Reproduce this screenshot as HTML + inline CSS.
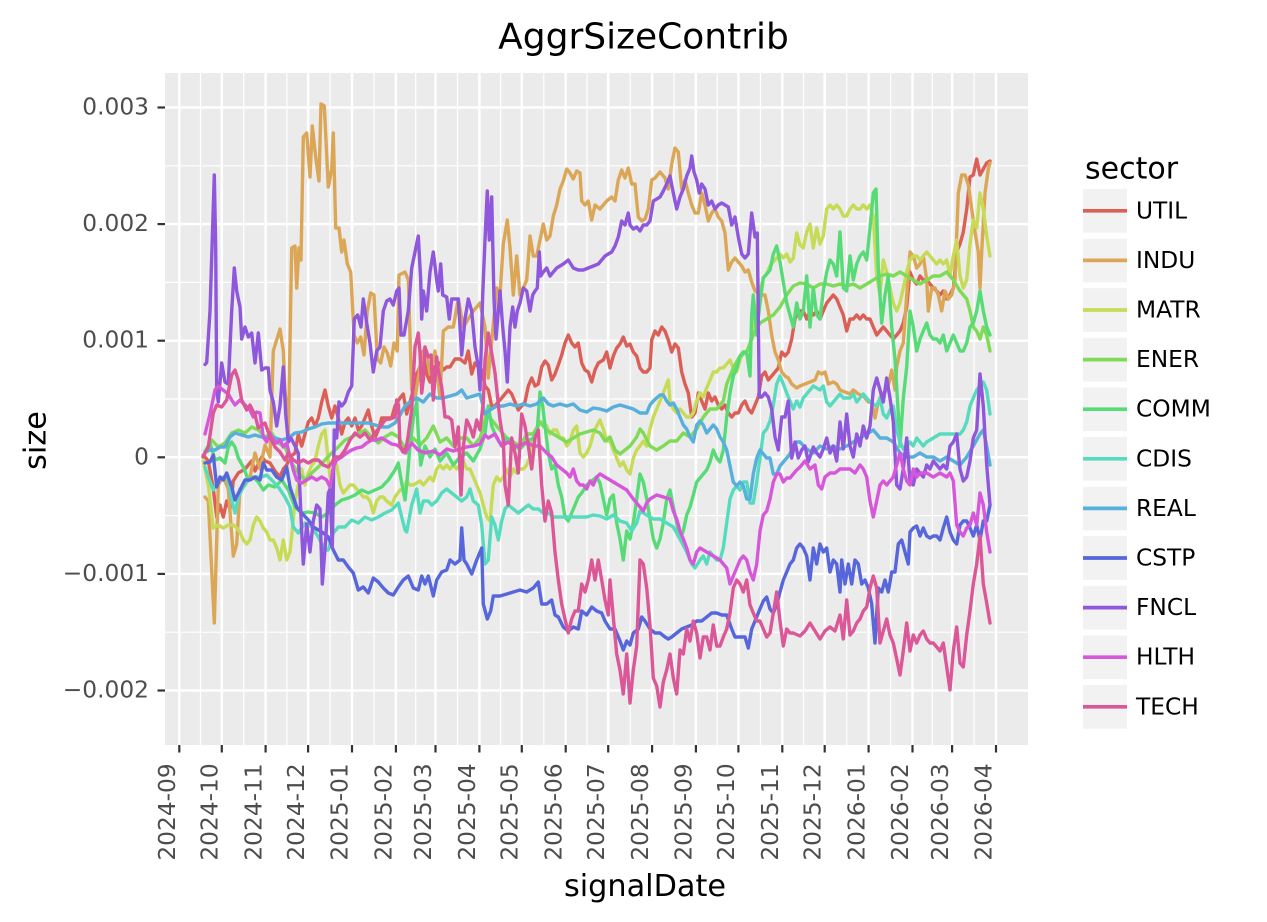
<!DOCTYPE html>
<html><head><meta charset="utf-8"><style>html,body{margin:0;padding:0;background:#fff}svg{display:block}text{font-family:"DejaVu Sans","Liberation Sans",sans-serif}</style></head><body>
<svg width="1267" height="922" viewBox="0 0 1267 922" xmlns="http://www.w3.org/2000/svg">
<rect x="0" y="0" width="1267" height="922" fill="#ffffff"/>
<rect x="165" y="73" width="863" height="672" fill="#ebebeb"/>
<g stroke="#ffffff" stroke-width="1.2">
<line x1="165" x2="1028" y1="165.8" y2="165.8"/><line x1="165" x2="1028" y1="282.4" y2="282.4"/><line x1="165" x2="1028" y1="399" y2="399"/><line x1="165" x2="1028" y1="515.6" y2="515.6"/><line x1="165" x2="1028" y1="632.2" y2="632.2"/>
<line y1="73" y2="745" x1="200.5" x2="200.5"/><line y1="73" y2="745" x1="243.7" x2="243.7"/><line y1="73" y2="745" x1="286.9" x2="286.9"/><line y1="73" y2="745" x1="330.1" x2="330.1"/><line y1="73" y2="745" x1="374" x2="374"/><line y1="73" y2="745" x1="415.7" x2="415.7"/><line y1="73" y2="745" x1="457.5" x2="457.5"/><line y1="73" y2="745" x1="500.6" x2="500.6"/><line y1="73" y2="745" x1="543.8" x2="543.8"/><line y1="73" y2="745" x1="587" x2="587"/><line y1="73" y2="745" x1="630.2" x2="630.2"/><line y1="73" y2="745" x1="674" x2="674"/><line y1="73" y2="745" x1="717.2" x2="717.2"/><line y1="73" y2="745" x1="760.4" x2="760.4"/><line y1="73" y2="745" x1="803.5" x2="803.5"/><line y1="73" y2="745" x1="846.7" x2="846.7"/><line y1="73" y2="745" x1="890.6" x2="890.6"/><line y1="73" y2="745" x1="932.3" x2="932.3"/><line y1="73" y2="745" x1="974.1" x2="974.1"/>
</g>
<g stroke="#ffffff" stroke-width="2.5">
<line x1="165" x2="1028" y1="107.5" y2="107.5"/><line x1="165" x2="1028" y1="224.1" y2="224.1"/><line x1="165" x2="1028" y1="340.7" y2="340.7"/><line x1="165" x2="1028" y1="457.3" y2="457.3"/><line x1="165" x2="1028" y1="573.9" y2="573.9"/><line x1="165" x2="1028" y1="690.5" y2="690.5"/>
<line y1="73" y2="745" x1="179.3" x2="179.3"/><line y1="73" y2="745" x1="221.8" x2="221.8"/><line y1="73" y2="745" x1="265.6" x2="265.6"/><line y1="73" y2="745" x1="308.1" x2="308.1"/><line y1="73" y2="745" x1="352" x2="352"/><line y1="73" y2="745" x1="395.9" x2="395.9"/><line y1="73" y2="745" x1="435.5" x2="435.5"/><line y1="73" y2="745" x1="479.4" x2="479.4"/><line y1="73" y2="745" x1="521.8" x2="521.8"/><line y1="73" y2="745" x1="565.7" x2="565.7"/><line y1="73" y2="745" x1="608.2" x2="608.2"/><line y1="73" y2="745" x1="652.1" x2="652.1"/><line y1="73" y2="745" x1="695.9" x2="695.9"/><line y1="73" y2="745" x1="738.4" x2="738.4"/><line y1="73" y2="745" x1="782.3" x2="782.3"/><line y1="73" y2="745" x1="824.7" x2="824.7"/><line y1="73" y2="745" x1="868.6" x2="868.6"/><line y1="73" y2="745" x1="912.5" x2="912.5"/><line y1="73" y2="745" x1="952.1" x2="952.1"/><line y1="73" y2="745" x1="996" x2="996"/>
</g>
<g fill="none" stroke-width="3.4" stroke-linejoin="round" stroke-linecap="round">
<polyline stroke="#db5f57" points="203.3,455 208.3,461 213.3,489 216.7,517 220,505 223.3,517 226.7,501 230,509 233.3,481 238.3,473 245,469 251.7,461 255,471 261.7,457 265,461 270,463 275,471 280,477 283.3,469 286.7,465 290,457 295,453 298.3,434 301.7,446 305,434 308.3,422 311.7,418 315,426 318.3,418 321.7,402 325,390 328.3,406 331.7,418 335,406 338.3,418 341.7,434 345,422 348.3,418 351.7,426 355,418 358.3,430 361.7,426 365,418 368.3,410 371.7,426 375,438 378.3,430 381.7,418 386.7,418 391.7,418 395,406 400,398 403.3,394 406.7,414 410,402 413.3,390 416.7,374 420,367 423.3,351 426.7,374 430,382 433.3,367 436.7,367 440,363 443.3,370 446.7,367 450,367 455,359 460,359 465,363 468.3,351 471.7,374 475,363 478.3,367 481.7,370 485,386 488.3,390 491.7,406 495,406 498.3,402 501.7,398 505,394 508.3,390 511.7,394 515,402 518.3,410 521.7,406 525,402 528.3,386 531.7,378 535,386 538.3,384 541.7,367 545,361 548.3,365 551.7,380 555,374 558.3,365 561.7,355 565,343 568.3,335 571.7,343 575,347 578.3,343 581.7,363 585,370 588.3,372 591.7,382 595,370 598.3,363 603.3,360 606.7,352 610,368 613.3,356 616.7,348 620,344 623.3,337 626.7,346 630,344 633.3,352 636.7,356 640,368 643.3,372 646.7,372 650,368 651.7,340 655,331 658.3,335 661.7,327 665,331 668.3,340 671.7,352 675,344 678.3,348 681.7,372 685,384 688.3,393 691.7,417 695,413 698.3,393 701.7,401 705,409 708.3,393 711.7,401 715,397 718.3,405 721.7,409 725,405 728.3,413 731.7,417 735,413 738.3,413 741.7,405 745,401 748.3,409 751.7,413 755,405 758.3,397 761.7,376 765,372 768.3,380 771.7,376 775,372 778.3,368 781.7,352 785,356 788.3,352 791.7,339 795,319 798.3,311 803.3,311 806.7,319 810,311 813.3,315 816.7,311 820,319 823.3,311 826.7,303 830,299 833.3,295 836.7,299 840,307 843.3,315 846.7,331 850,319 853.3,319 856.7,315 860,319 863.3,315 866.7,319 870,319 873.3,327 876.7,335 880,331 883.3,327 886.7,331 890,335 893.3,339 896.7,335 900,331 903.3,323 906.7,307 910,272 913.3,280 916.7,284 920,276 923.3,280 926.7,280 930,284 933.3,288 936.7,291 940,295 943.3,291 946.7,299 950,295 953.3,288 956.7,252 960,244 963.3,232 966.7,209 970,177 973.3,175 976.7,159 980,175 983.3,169 986.7,163 990,161"/>
<polyline stroke="#dba757" points="205,497 208.3,501 214.3,623 218.3,485 223.3,477 228.3,489 233.3,556 236.7,544 240,489 245,485 250,477 255,453 260,469 265,445 270,457 273.3,351 280,329 283.3,351 285,390 288.3,438 291.7,248 295,246 296.7,288 299,248 301,260 303.3,137 306.7,133 310,177 312.3,126 315.7,157 319,181 321,104 324.3,106 328.3,187 331.7,169 333.3,133 335.7,228 339,228 341.7,252 344,240 347.3,264 350.7,272 354,335 357.3,343 360.7,337 364,355 367.3,311 370.7,293 374,295 377.3,359 380.7,363 384,347 387.3,353 390.7,366 394,343 397.3,351 399,275 405,272 408.3,280 411.7,390 415,398 420,367 425,347 430,374 435,351 440,398 443.3,331 448.3,327 453.3,327 458.3,299 463.3,327 468.3,319 473.3,311 480,303 485,327 488.3,378 496.7,288 500,295 503.3,244 507.3,220 510,248 513.3,295 516.7,256 520,295 523.3,288 526.7,280 530,236 533.3,256 536.7,256 540,240 543.3,224 546.7,240 550,236 553.3,216 556.7,205 560,189 563.3,181 566.7,169 570,173 573.3,179 576.7,171 580,173 581.7,201 585,205 588.3,201 591.7,220 595,205 600,209 606.7,201 611.7,197 615,201 618.3,180 621.7,170 625,178 628.3,168 631.7,184 635,184 638.3,217 641.7,221 645,219 648.3,209 651.7,180 655,178 660,172 665,178 668.3,189 671.7,164 675,148 678.3,152 681.7,189 685,180 688.3,193 691.7,205 695,213 698.3,213 701.7,193 705,205 708.3,221 711.7,213 715,209 718.3,217 721.7,221 725,233 728.3,270 731.7,262 735,258 738.3,262 741.7,266 745,272 748.3,270 751.7,282 755,291 758.3,293 761.7,295 765,295 768.3,311 771.7,335 775,352 778.3,360 781.7,372 785,376 788.3,378 791.7,384 796.7,388 800,386 805,384 810,382 815,380 818.3,372 821.7,374 825,372 828.3,384 833.3,382 836.7,384 840,390 845,392 850,394 853.3,390 858.3,394 863.3,396 868.3,402 871.7,402 875,418 878.3,402 881.7,394 885,392 888.3,386 891.7,370 895,390 896.7,367 900,351 903.3,343 906.7,295 910,252 913.3,256 916.7,268 920,264 923.3,256 926.7,280 928.3,311 931.7,288 935,288 938.3,295 941.7,311 945,291 948.3,299 951.7,295 955,280 958.3,193 961.7,175 965,175 968.3,185 971.7,209 975,232 978.3,252 980,288 981.7,252 985,193 988.3,169 990,163"/>
<polyline stroke="#c7db57" points="203.3,461 208.3,485 213.3,528 218.3,525 223.3,528 228.3,525 233.3,525 236.7,528 240,532 243.3,540 246.7,544 250,540 253.3,525 256.7,517 260,521 263.3,528 266.7,532 270,540 273.3,540 276.7,548 280,560 283.3,540 286.7,560 290,552 291.7,536 295,501 298.3,485 301.7,469 305,485 308.3,473 311.7,465 315,461 318.3,446 321.7,434 325,430 326.7,446 330,477 333.3,469 336.7,465 340,485 343.3,493 346.7,489 350,485 353.3,485 356.7,489 360,493 363.3,497 366.7,497 370,501 373.3,513 376.7,501 380,497 383.3,497 386.7,501 391.7,505 395,497 400,490 403.3,489 406.7,481 410,485 413.3,485 416.7,483 420,481 423.3,485 426.7,481 430,477 433.3,481 436.7,469 440,465 443.3,469 446.7,465 450,469 453.3,465 456.7,469 460,465 463.3,461 466.7,469 470,469 473.3,477 476.7,485 480,493 483.3,505 486.7,517 490,521 493.3,485 496.7,477 500,481 503.3,477 506.7,469 510,477 513.3,469 516.7,473 520,469 523.3,469 526.7,465 530,457 533.3,438 536.7,430 540,422 543.3,422 546.7,426 550,434 553.3,430 556.7,430 560,438 563.3,438 566.7,446 570,442 573.3,430 576.7,426 580,453 583.3,457 586.7,453 590,446 593.3,434 596.7,426 600,420 603.3,429 606.7,441 610,441 613.3,450 616.7,458 620,466 623.3,462 626.7,470 630,474 633.3,458 636.7,450 640,446 643.3,441 646.7,446 650,429 653.3,417 656.7,409 660,401 663.3,393 666.7,384 668.3,380 670,401 673.3,409 676.7,413 680,409 683.3,413 686.7,417 690,417 693.3,413 696.7,401 700,393 703.3,397 706.7,388 710,380 713.3,372 716.7,372 720,368 723.3,368 726.7,364 730,360 733.3,368 736.7,372 740,360 743.3,352 746.7,352 750,344 753.3,327 756.7,311 760,291 763.3,278 766.7,274 770,266 773.3,262 776.7,258 780,254 783.3,258 786.7,254 790,262 793.3,258 796.7,233 800,245 803.3,248 806.7,232 810,224 813.3,248 816.7,228 820,244 823.3,236 826.7,209 830,205 833.3,209 836.7,205 840,209 843.3,216 846.7,216 850,209 853.3,205 856.7,209 860,209 863.3,205 866.7,209 870,205 873.3,216 876.7,276 880,295 883.3,260 886.7,272 890,288 893.3,303 896.7,311 900,303 903.3,288 906.7,272 910,260 913.3,256 916.7,256 920,260 923.3,256 926.7,252 930,256 933.3,260 936.7,264 940,260 943.3,264 946.7,260 950,276 953.3,256 956.7,240 960,276 963.3,288 966.7,280 970,244 973.3,220 976.7,228 980,193 983.3,209 986.7,236 990,256"/>
<polyline stroke="#7fdb57" points="205,452 211.7,440 218.3,447 225,443 231.7,433 238.3,430 245,433 251.7,427 258.3,430 265,437 271.7,433 278.3,443 285,447 291.7,463 298.3,473 305,480 311.7,473 318.3,467 325,460 331.7,453 338.3,447 345,440 351.7,437 358.3,433 365,430 371.7,437 378.3,443 385,437 391.7,433 398.3,437 403,445 406.7,453 413.3,438 420,445 426.7,438 433.3,426 440,442 446.7,438 453.3,446 460,438 466.7,438 473.3,446 480,438 486.7,414 493.3,422 500,430 506.7,438 513.3,442 520,446 526.7,434 533.3,434 540,422 546.7,430 553.3,434 560,438 566.7,442 573.3,438 580,434 586.7,432 593.3,430 600,433 605,441 610,437 615,450 620,454 625,450 630,446 636.7,437 640,429 643.3,433 650,446 656.7,450 663.3,446 670,441 676.7,441 683.3,433 690,437 696.7,429 703.3,417 710,409 716.7,409 723.3,401 726.7,384 733.3,368 740,356 746.7,352 753.3,335 760,323 766.7,319 773.3,315 780,307 786.7,295 793.3,286 800,283 806.7,284 813.3,288 820,284 826.7,284 833.3,286 840,284 846.7,286 853.3,284 860,288 866.7,284 873.3,280 880,276 886.7,274 893.3,276 900,272 906.7,276 913.3,280 920,284 926.7,280 933.3,276 940,276 946.7,272 953.3,280 960,291 966.7,299 970,311 973.3,327 976.7,331 980,339 983.3,327 986.7,335 990,351"/>
<polyline stroke="#57db77" points="205,452 210,443 215,460 220,458 225,463 228.3,447 231.7,442 235,447 238.3,458 243.3,467 248.3,480 253.3,477 258.3,482 263.3,490 268.3,485 275,487 281.7,480 288.3,490 295,507 301.7,513 308.3,512 315,513 321.7,517 328.3,513 335,505 341.7,500 348.3,498 355,495 361.7,490 368.3,493 375,490 381.7,487 388.3,480 395,470 398.3,463 401.7,483 405,500 406.7,485 410,446 413.3,418 416.7,402 418.3,434 420.7,465 425,446 430,457 435,449 440,461 446.7,453 453.3,465 460,457 466.7,453 473.3,461 480,449 485,434 488.3,406 491.7,426 496.7,438 501.7,446 506.7,438 513.3,446 520,449 526.7,442 533.3,438 537.3,430 540,392 542.7,406 545,426 548.3,453 551.7,469 555,465 558.3,485 561.7,497 565,517 568.3,521 571.7,513 575,505 578.3,497 581.7,493 586.7,485 591.7,481 596.7,477 600,483 603.3,499 606.7,515 610,499 613.3,495 616.7,523 620,539 623.3,560 626.7,531 630,539 633.3,523 636.7,499 640,474 643.3,482 646.7,499 650,519 653.3,539 656.7,548 660,539 663.3,523 666.7,499 670,490 673.3,507 676.7,523 680,539 683.3,531 686.7,515 690,507 693.3,495 696.7,482 700,478 703.3,474 706.7,470 710,462 713.3,450 716.7,458 720,462 723.3,450 726.7,417 730,393 733.3,376 736.7,368 740,356 743.3,352 746.7,352 750,376 751.7,315 753.3,295 756.7,335 760,303 763.3,278 766.7,274 770,270 773.3,254 776.7,246 780,262 783.3,282 786.7,303 790,315 793.3,327 796.7,303 800,319 803.3,311 806.7,276 810,327 813.3,288 816.7,315 820,319 823.3,291 826.7,272 830,260 833.3,264 836.7,276 840,232 843.3,288 846.7,291 850,256 853.3,280 856.7,264 860,256 863.3,252 866.7,260 870,228 873.3,193 876,189 878.3,268 881.7,323 885,295 888.3,276 891.7,327 895,359 898.3,414 900,446 903.3,398 906.7,367 910,311 913.3,327 916.7,351 920,339 923.3,331 926.7,323 930,335 933.3,339 936.7,339 940,343 943.3,335 946.7,351 950,343 953.3,335 956.7,343 960,351 963.3,351 966.7,343 970,327 973.3,323 976.7,311 980,291 983.3,311 986.7,327 990,335"/>
<polyline stroke="#57dbbf" points="205,467 208.3,477 213.3,490 218.3,480 223.3,477 228.3,480 231.7,500 235,513 238.3,497 243.3,487 248.3,480 255,477 261.7,477 266.7,475 271.7,480 278.3,487 285,497 290,507 293.3,527 298.3,533 305,523 311.7,527 318.3,537 325,550 328.3,550 333.3,533 338.3,527 345,527 351.7,520 358.3,523 365,517 371.7,520 378.3,517 385,513 391.7,510 398.3,503 401.7,517 405,530 406.7,532 411.7,505 416.7,489 420,513 423.3,501 428.3,501 431.7,505 436.7,501 441.7,493 446.7,489 451.7,493 456.7,497 461.7,501 466.7,497 470,489 473.3,501 478.3,505 481.7,525 485,564 488.3,560 491.7,517 495,525 498.3,540 501.7,521 505,509 508.3,505 513.3,509 518.3,513 523.3,509 528.3,505 533.3,509 538.3,509 543.3,513 548.3,513 553.3,517 560,517 566.7,517 573.3,517 580,517 586.7,517 593.3,515 600,516 606.7,519 613.3,515 620,521 626.7,523 631.7,531 636.7,523 640,511 646.7,515 653.3,519 660,519 666.7,523 673.3,527 680,539 686.7,552 691.7,564 695,568 700,560 703.3,556 706.7,564 710,552 713.3,556 716.7,560 720,560 723.3,548 726.7,523 730,499 733.3,490 736.7,486 740,490 743.3,482 746.7,482 750,503 753.3,503 756.7,482 760,458 763.3,433 766.7,429 770,421 773.3,405 776.7,384 780,376 783.3,384 786.7,393 790,401 793.3,409 796.7,401 800,407 803.3,398 806.7,394 810,390 813.3,386 820,390 823.3,386 826.7,402 830,406 833.3,402 840,394 843.3,398 850,398 853.3,394 856.7,402 863.3,394 870,402 876.7,406 880,398 883.3,414 886.7,418 890,410 893.3,406 896.7,430 900,442 903.3,449 906.7,446 910,442 913.3,446 916.7,438 920,442 923.3,446 926.7,442 933.3,438 940,434 946.7,434 953.3,434 960,434 963.3,430 966.7,422 970,406 973.3,398 976.7,390 980,386 983.3,382 986.7,390 990,414"/>
<polyline stroke="#57afdb" points="205,452 210,450 215,450 220,447 225,447 230,437 235,433 241.7,435 248.3,437 255,435 261.7,437 268.3,438 275,438 281.7,440 288.3,438 295,433 301.7,432 308.3,429 315,427 321.7,424 328.3,423 335,423 341.7,423 348.3,423 355,423 361.7,423 368.3,423 375,425 381.7,427 388.3,427 395,423 400,415 405,406 410,402 416.7,398 423.3,402 430,394 436.7,398 443.3,398 450,396 456.7,394 461.7,390 466.7,398 473.3,396 480,394 485,414 490,410 496.7,406 503.3,406 510,404 516.7,406 523.3,404 530,406 536.7,404 543.3,398 548.3,404 553.3,406 560,404 566.7,406 573.3,404 580,410 586.7,412 593.3,408 600,409 606.7,411 613.3,407 620,405 626.7,407 633.3,409 640,413 646.7,413 650,405 653.3,401 660,395 663.3,395 666.7,401 670,405 673.3,403 676.7,409 680,417 683.3,425 686.7,429 690,437 693.3,442 696.7,425 700,421 703.3,425 706.7,433 710,429 713.3,425 716.7,429 720,437 723.3,442 726.7,450 730,466 733.3,482 736.7,486 740,482 743.3,486 746.7,499 750,499 753.3,474 756.7,458 760,450 763.3,454 766.7,458 770,458 773.3,474 776.7,474 780,466 783.3,462 786.7,458 790,454 793.3,446 796.7,442 800,442 806.7,449 813.3,453 820,446 826.7,449 833.3,446 840,449 846.7,446 853.3,442 860,438 866.7,434 873.3,430 880,438 886.7,438 893.3,442 900,453 906.7,457 913.3,457 920,453 926.7,457 933.3,457 940,461 946.7,457 953.3,461 960,465 966.7,457 973.3,446 980,434 983.3,430 986.7,446 990,465"/>
<polyline stroke="#5767db" points="205,463 210,462 213.3,455 216.7,487 220,477 223.3,480 226.7,473 231.7,487 235,500 240,490 245,480 250,480 255,477 260,480 263.3,463 266.7,470 271.7,470 276.7,477 281.7,480 286.7,467 290,487 293.3,497 296.7,507 301.7,513 308.3,520 313.3,527 318.3,530 323.3,533 328.3,537 333.3,550 338.3,560 343.3,560 348.3,567 353.3,573 358.3,590 363.3,587 368.3,593 373.3,578 378.3,582 383.3,588 388.3,593 393.3,595 398.3,587 403.3,580 408.3,576 413.3,588 418.3,590 421.7,576 425,584 428.3,576 433.3,596 436.7,580 441.7,572 446.7,570 450,560 455,564 460,560 461.7,528 464,560 466.7,564 471.7,574 476.7,560 481.7,548 483.3,604 487.3,619 490.7,611 493.3,596 500,596 506.7,594 513.3,592 520,590 526.7,592 533.3,588 538.3,582 541.7,604 546.7,604 551.7,600 555,615 558.3,617 563.3,627 568.3,631 573.3,627 578.3,629 581.7,611 586.7,615 591.7,607 596.7,611 601.7,613 605,621 610,629 615,629 620,641 623.3,650 626.7,641 630,645 633.3,633 638.3,629 641.7,617 645,621 650,629 655,633 660,633 665,637 668.3,639 671.7,637 676.7,633 681.7,629 686.7,627 691.7,625 696.7,621 701.7,621 706.7,617 711.7,613 716.7,613 721.7,615 726.7,615 731.7,629 735,637 740,637 745,637 748.3,648 751.7,629 755,621 758.3,613 763.3,601 766.7,597 770,609 773.3,613 776.7,605 780,592 783.3,580 786.7,572 790,564 793.3,560 796.7,548 800,544 803.3,548 806.7,556 810,580 813.3,548 816.7,564 820,544 823.3,552 826.7,548 830,572 833.3,560 836.7,564 840,592 841.7,560 845,584 848.3,564 851.7,584 855,560 858.3,564 861.7,584 865,580 868.3,588 871.7,604 875,643 878.3,588 881.7,592 885,580 888.3,592 891.7,572 895,572 898.3,544 901.7,540 905,552 908.3,564 910,532 913.3,528 916.7,526 920,536 923.3,528 926.7,536 930,538 933.3,536 936.7,536 940,540 943.3,528 946.7,517 950,532 953.3,540 956.7,544 960,525 963.3,521 966.7,521 970,528 973.3,536 976.7,525 980,540 983.3,521 986.7,521 990,505"/>
<polyline stroke="#8f57db" points="205,364.5 206.7,362.6 210,311 214.3,175 215.7,248 216.7,390 218.3,402 221.7,363 225,382 228.3,384 231.7,311 234.3,268 236.7,291 240,307 241.7,339 245,327 248.3,337 251.7,333 255,363 258.3,333 261.7,370 265,368 268.3,368 270,390 273.3,402 276.7,426 280,406 283.3,367 285.7,414 288.3,442 291,438 295,446 298.3,453 301,517 303.3,564 306.7,524 310,552 313.3,521 316.7,505 320,509 322.3,584 325.7,540 328.3,493 330,489 332.3,548 334.3,430 336.7,438 339,402 341.7,406 345,402 348.3,392 351.7,386 354.3,319 357.7,315 361,327 363.3,299 366.7,323 370,343 373.3,372 376.7,351 380,347 383.3,311 386.7,301 390,299 393.3,305 396.7,291 399,288 401,335 404,335 408.3,311 411.7,268 415,252 418.3,236 420.7,280 421.7,319 423.3,291 426.7,311 430,272 433.3,252 436.7,280 438.3,291 440.7,264 442.7,295 446.7,297 449.3,319 451.7,299 458.3,299 461.7,355 465,319 468.3,299 471.7,311 475,347 478.3,367 480,390 482.7,295 485,240 487.3,191 489.3,240 491.7,197 494,299 496,339 498.3,311 500,291 502.7,327 505,351 507.3,382 510,327 512.7,307 515,327 517.3,311 520,303 523.3,288 526.7,291 530,311 532.7,295 535,291 537.3,288 539.3,252 540.7,276 543.3,272 546.7,268 550,276 553.3,272 556.7,268 560,266 563.3,264 568.3,260 573.3,268 578.3,270 583.3,270 588.3,268 593.3,266 598.3,264 601.7,260 605,256 608.3,254 611.7,252 615,246 618.3,237 621.7,221 625,225 628.3,213 630,225 633.3,229 636.7,227 640,231 643.3,225 646.7,225 650,221 653.3,201 656.7,199 660,197 663.3,191 666.7,184 670,176 673.3,193 676.7,209 680,197 683.3,189 686.7,176 690,168 691.7,156 694,172 696.7,180 699.3,193 701.7,184 705,189 708.3,205 711.7,201 715,209 718.3,205 721.7,203 725,205 728.3,207 731.7,225 735,217 738.3,237 741.7,254 745,258 748.3,254 751.7,213 755,237 757.3,233 759.3,397 761.7,397 765,393 768.3,397 771.7,409 775,437 778.3,450 781.7,417 785,417 788.3,401 791.7,458 795,442 798.3,458 801.7,450 805,446 808.3,462 810,457 813.3,447 816.7,453 820,457 823.3,449 826.7,438 830,453 833.3,446 836.7,461 840,422 843.3,449 846.7,414 850,446 853.3,457 856.7,434 860,446 863.3,426 866.7,438 870,426 873.3,390 876.7,378 880,390 883.3,402 886.7,378 890,398 893.3,422 896.7,485 900,489 903.3,469 906.7,438 910,481 913.3,485 916.7,469 920,473 923.3,477 926.7,465 930,469 933.3,461 936.7,465 940,469 943.3,465 946.7,469 950,446 953.3,442 956.7,434 960,469 963.3,481 966.7,477 970,461 973.3,438 976.7,430 980,374 983.3,406 986.7,465 990,505"/>
<polyline stroke="#d757db" points="205,434 210,414 215,390 218.3,386 223,390 228.3,394 231.7,400 235,405 240,400 245,405 250,410 253.3,417 256.7,412 260,413 263.3,437 266.7,442 270,433 273.3,440 276.7,443 280,440 283.3,447 286.7,443 290,457 293.3,470 296.7,480 301.7,483 306.7,480 311.7,477 316.7,480 321.7,477 326.7,480 330,487 333.3,467 336.7,460 341.7,457 346.7,453 351.7,450 356.7,448 361.7,447 366.7,443 371.7,440 376.7,440 381.7,438 386.7,441 391.7,444 396.7,445 401.7,448 405,453 411.7,443 418,450 425,453 433.3,451 440,455 446.7,449 453.3,451 460,449 466.7,447 473.3,446 480,444 485,435 488.3,438 495,434 501.7,446 508.3,442 513.3,446 520,446 526.7,442 533.3,446 540,446 546.7,453 551.7,457 556.7,465 561.7,469 566.7,473 570,477 573.3,469 576.7,481 580,485 583.3,485 586.7,489 590,481 593.3,485 596.7,477 600,474 606.7,478 613.3,482 620,486 626.7,490 633.3,499 640,507 643.3,511 646.7,503 650,499 656.7,495 663.3,497 670,499 673.3,511 676.7,519 680,531 683.3,539 686.7,548 690,560 693.3,564 696.7,552 700,548 706.7,552 713.3,556 720,560 723.3,564 726.7,568 730,584 733.3,576 736.7,568 740,560 743.3,556 746.7,560 750,572 753.3,580 756.7,564 760,531 763.3,515 766.7,511 770,499 773.3,482 776.7,474 780,474 783.3,482 786.7,478 790,478 793.3,474 796.7,470 800,467 805,461 810,469 815,465 818.3,485 821.7,489 825,477 830,473 835,473 840,469 845,469 850,469 855,473 860,465 863.3,469 866.7,477 870,501 873.3,517 876.7,501 880,485 883.3,481 886.7,485 890,481 893.3,477 896.7,465 900,453 903.3,469 906.7,481 910,485 913.3,469 916.7,477 920,473 926.7,473 933.3,477 940,473 946.7,477 950,473 953.3,481 956.7,525 960,532 963.3,536 966.7,528 970,525 973.3,513 976.7,525 980,493 983.3,505 986.7,532 990,552"/>
<polyline stroke="#db5797" points="203,457 208.3,447 213.3,413 216.7,405 221.7,407 226.7,400 231.7,375 235,370 238.3,380 241.7,400 246.7,410 250,405 255,415 258.3,428 261.7,425 265,423 270,437 275,447 280,452 285,460 288.3,453 293.3,460 298.3,463 303.3,460 308.3,463 313.3,460 318.3,460 323.3,465 328.3,467 331.7,463 335,457 340,457 345,450 350,440 355,433 360,437 365,433 370,440 375,433 380,427 385,420 390,419 395,417 396.7,400 398.5,405 400,447 403,452 406,448 408,437 411.7,410 415,347 418.3,333 420,353 421.7,393 423.3,380 425,347 428.3,357 431,355 433.3,400 436.7,357 438.3,370 441.7,387 445,417 448.3,417 451.7,420 455,447 458.3,427 461,495 463.3,447 466.7,420 470,427 473.3,437 476.7,420 480,430 483.3,403 485,360 488.3,333 491.7,353 495,373 500,420 503.3,440 505,485 508.3,505 511.7,438 515,453 518.3,473 521.7,414 525,426 528.3,446 531.7,469 535,438 538.3,430 541.7,485 545,521 548.3,501 551.7,513 555,552 558.3,580 561.7,604 565,619 568.3,633 571.7,619 575,611 578.3,611 581.7,584 585,592 588.3,580 591.7,560 595,580 598.3,560 601.7,580 605,600 608.3,615 610,580 613.3,617 616.7,654 620,670 623.3,694 626.7,654 630,703 633.3,670 636.7,646 640,560 643.3,564 646.7,588 650,625 653.3,678 656.7,686 660,707 663.3,682 666.7,670 670,654 673.3,678 676.7,694 680,650 683.3,654 686.7,629 690,641 693.3,621 696.7,633 700,658 703.3,637 706.7,637 710,650 713.3,625 716.7,646 720,646 723.3,637 726.7,629 730,613 733.3,588 736.7,580 740,584 743.3,592 746.7,580 750,605 753.3,613 756.7,621 760,621 763.3,629 766.7,637 770,633 773.3,613 776.7,592 780,621 783.3,646 786.7,629 790,633 793.3,633 800,636 805,631 810,623 815,631 820,639 825,631 830,627 835,631 840,615 843.3,639 846.7,600 850,635 853.3,631 856.7,623 860,619 863.3,611 866.7,607 870,588 873.3,576 876.7,588 880,643 883.3,631 886.7,619 890,635 893.3,643 896.7,659 900,675 903.3,651 906.7,623 910,651 913.3,635 916.7,643 920,635 923.3,631 926.7,639 930,643 933.3,643 936.7,647 940,651 943.3,643 946.7,667 950,690 953.3,651 956.7,627 960,663 963.3,667 966.7,635 970,611 973.3,584 976.7,564 980,536 983.3,584 986.7,603 990,623"/>
</g>
<g stroke="#333333" stroke-width="2.2">
<line x1="157.5" x2="165" y1="107.5" y2="107.5"/><line x1="157.5" x2="165" y1="224.1" y2="224.1"/><line x1="157.5" x2="165" y1="340.7" y2="340.7"/><line x1="157.5" x2="165" y1="457.3" y2="457.3"/><line x1="157.5" x2="165" y1="573.9" y2="573.9"/><line x1="157.5" x2="165" y1="690.5" y2="690.5"/>
<line y1="745" y2="752.5" x1="179.3" x2="179.3"/><line y1="745" y2="752.5" x1="221.8" x2="221.8"/><line y1="745" y2="752.5" x1="265.6" x2="265.6"/><line y1="745" y2="752.5" x1="308.1" x2="308.1"/><line y1="745" y2="752.5" x1="352" x2="352"/><line y1="745" y2="752.5" x1="395.9" x2="395.9"/><line y1="745" y2="752.5" x1="435.5" x2="435.5"/><line y1="745" y2="752.5" x1="479.4" x2="479.4"/><line y1="745" y2="752.5" x1="521.8" x2="521.8"/><line y1="745" y2="752.5" x1="565.7" x2="565.7"/><line y1="745" y2="752.5" x1="608.2" x2="608.2"/><line y1="745" y2="752.5" x1="652.1" x2="652.1"/><line y1="745" y2="752.5" x1="695.9" x2="695.9"/><line y1="745" y2="752.5" x1="738.4" x2="738.4"/><line y1="745" y2="752.5" x1="782.3" x2="782.3"/><line y1="745" y2="752.5" x1="824.7" x2="824.7"/><line y1="745" y2="752.5" x1="868.6" x2="868.6"/><line y1="745" y2="752.5" x1="912.5" x2="912.5"/><line y1="745" y2="752.5" x1="952.1" x2="952.1"/><line y1="745" y2="752.5" x1="996" x2="996"/>
</g>
<g fill="#4d4d4d" font-size="23.3" text-anchor="end">
<text x="149" y="114.5">0.003</text><text x="149" y="231.1">0.002</text><text x="149" y="347.7">0.001</text><text x="149" y="464.5">0</text><text x="149" y="581">−0.001</text><text x="149" y="697.5">−0.002</text>
</g>
<g fill="#4d4d4d" font-size="23.3" text-anchor="end">
<text transform="translate(175,763.3) rotate(-90)">2024-09</text>
<text transform="translate(217.5,763.3) rotate(-90)">2024-10</text>
<text transform="translate(261.3,763.3) rotate(-90)">2024-11</text>
<text transform="translate(303.8,763.3) rotate(-90)">2024-12</text>
<text transform="translate(347.7,763.3) rotate(-90)">2025-01</text>
<text transform="translate(391.6,763.3) rotate(-90)">2025-02</text>
<text transform="translate(431.2,763.3) rotate(-90)">2025-03</text>
<text transform="translate(475.1,763.3) rotate(-90)">2025-04</text>
<text transform="translate(517.5,763.3) rotate(-90)">2025-05</text>
<text transform="translate(561.4,763.3) rotate(-90)">2025-06</text>
<text transform="translate(603.9,763.3) rotate(-90)">2025-07</text>
<text transform="translate(647.8,763.3) rotate(-90)">2025-08</text>
<text transform="translate(691.6,763.3) rotate(-90)">2025-09</text>
<text transform="translate(734.1,763.3) rotate(-90)">2025-10</text>
<text transform="translate(778,763.3) rotate(-90)">2025-11</text>
<text transform="translate(820.4,763.3) rotate(-90)">2025-12</text>
<text transform="translate(864.3,763.3) rotate(-90)">2026-01</text>
<text transform="translate(908.2,763.3) rotate(-90)">2026-02</text>
<text transform="translate(947.8,763.3) rotate(-90)">2026-03</text>
<text transform="translate(991.7,763.3) rotate(-90)">2026-04</text>
</g>
<text x="643.5" y="48.5" font-size="36" text-anchor="middle" fill="#000">AggrSizeContrib</text>
<text x="645" y="896" font-size="30.3" text-anchor="middle" fill="#000">signalDate</text>
<text transform="translate(45.5,440.5) rotate(-90)" font-size="30.3" text-anchor="middle" fill="#000">size</text>
<text x="1085" y="178.3" font-size="30" fill="#000">sector</text>
<g>
<rect x="1083" y="189" width="44" height="43.7" fill="#f2f2f2"/><line x1="1083" x2="1127" y1="210.8" y2="210.8" stroke="#db5f57" stroke-width="3.7"/>
<rect x="1083" y="238.6" width="44" height="43.7" fill="#f2f2f2"/><line x1="1083" x2="1127" y1="260.4" y2="260.4" stroke="#dba757" stroke-width="3.7"/>
<rect x="1083" y="288.2" width="44" height="43.7" fill="#f2f2f2"/><line x1="1083" x2="1127" y1="310" y2="310" stroke="#c7db57" stroke-width="3.7"/>
<rect x="1083" y="337.8" width="44" height="43.7" fill="#f2f2f2"/><line x1="1083" x2="1127" y1="359.6" y2="359.6" stroke="#7fdb57" stroke-width="3.7"/>
<rect x="1083" y="387.4" width="44" height="43.7" fill="#f2f2f2"/><line x1="1083" x2="1127" y1="409.2" y2="409.2" stroke="#57db77" stroke-width="3.7"/>
<rect x="1083" y="437" width="44" height="43.7" fill="#f2f2f2"/><line x1="1083" x2="1127" y1="458.8" y2="458.8" stroke="#57dbbf" stroke-width="3.7"/>
<rect x="1083" y="486.6" width="44" height="43.7" fill="#f2f2f2"/><line x1="1083" x2="1127" y1="508.4" y2="508.4" stroke="#57afdb" stroke-width="3.7"/>
<rect x="1083" y="536.2" width="44" height="43.7" fill="#f2f2f2"/><line x1="1083" x2="1127" y1="558" y2="558" stroke="#5767db" stroke-width="3.7"/>
<rect x="1083" y="585.8" width="44" height="43.7" fill="#f2f2f2"/><line x1="1083" x2="1127" y1="607.6" y2="607.6" stroke="#8f57db" stroke-width="3.7"/>
<rect x="1083" y="635.4" width="44" height="43.7" fill="#f2f2f2"/><line x1="1083" x2="1127" y1="657.2" y2="657.2" stroke="#d757db" stroke-width="3.7"/>
<rect x="1083" y="685" width="44" height="43.7" fill="#f2f2f2"/><line x1="1083" x2="1127" y1="706.8" y2="706.8" stroke="#db5797" stroke-width="3.7"/>
</g>
<g font-size="23.3" fill="#000">
<text x="1136" y="218.3">UTIL</text>
<text x="1136" y="267.9">INDU</text>
<text x="1136" y="317.5">MATR</text>
<text x="1136" y="367.1">ENER</text>
<text x="1136" y="416.7">COMM</text>
<text x="1136" y="466.3">CDIS</text>
<text x="1136" y="515.9">REAL</text>
<text x="1136" y="565.5">CSTP</text>
<text x="1136" y="615.1">FNCL</text>
<text x="1136" y="664.7">HLTH</text>
<text x="1136" y="714.3">TECH</text>
</g>
</svg>
</body></html>
